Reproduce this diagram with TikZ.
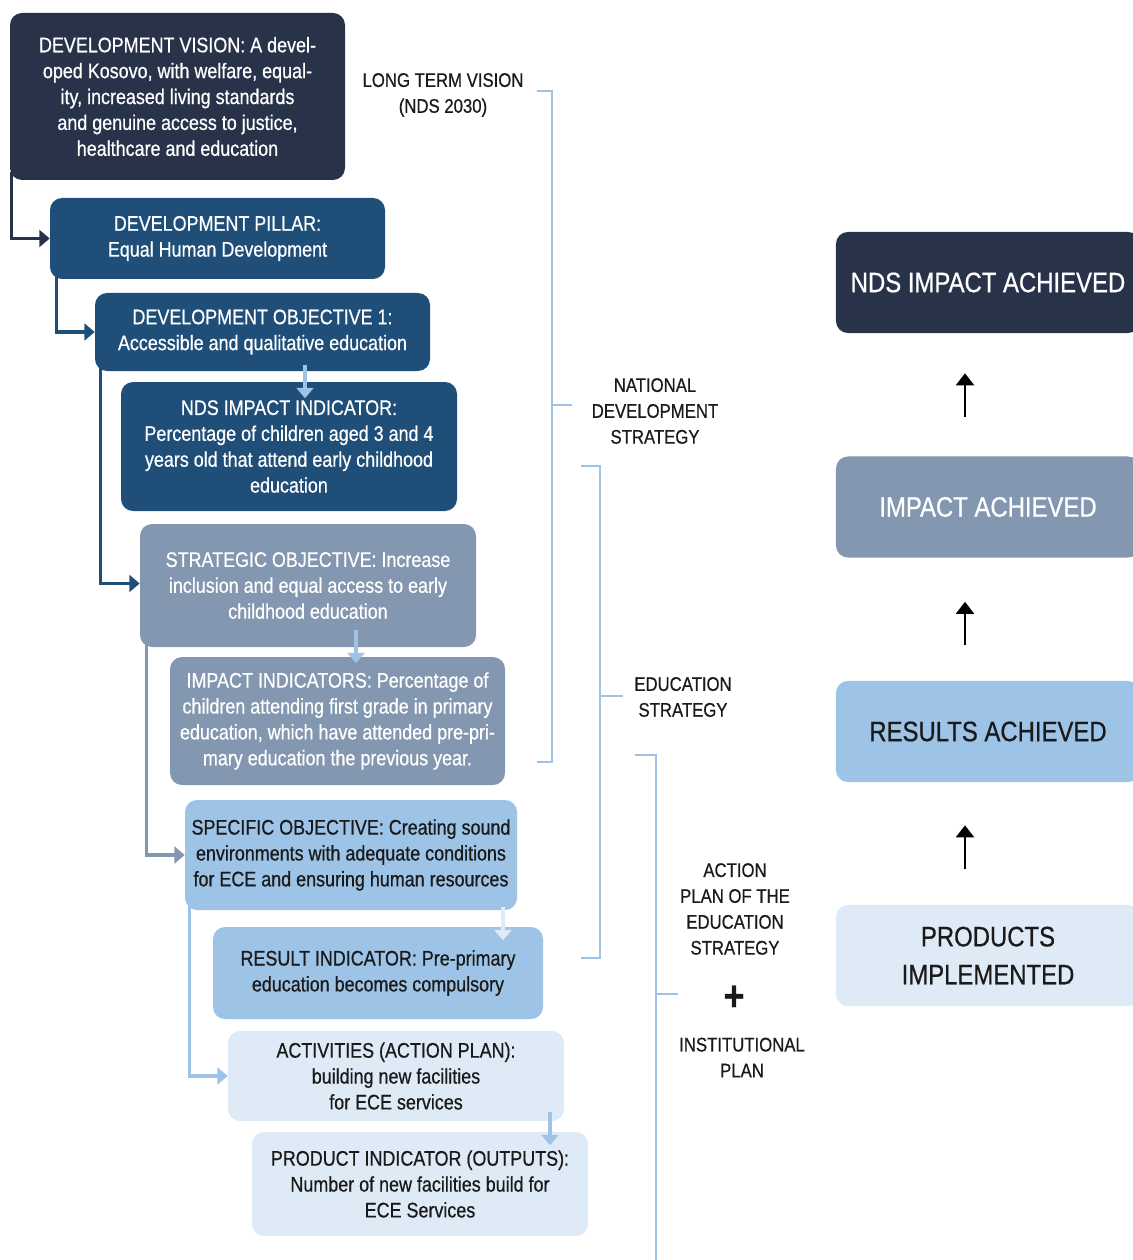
\documentclass[tikz,border=0pt]{standalone}
\usepackage{fontspec}
\setmainfont{Liberation Sans}[FakeStretch=0.85, FakeBold=0.6]
\usetikzlibrary{arrows.meta,calc}

\definecolor{navy}{HTML}{28334A}
\definecolor{darkblue}{HTML}{1F4E79}
\definecolor{greyblue}{HTML}{8497B0}
\definecolor{lightblue}{HTML}{9DC3E6}
\definecolor{paleblue}{HTML}{DEEBF7}
\definecolor{ink}{HTML}{1A1A1A}

\begin{document}
\begin{tikzpicture}[x=0.025cm, y=-0.025cm,
    box/.style={rounded corners=0.3cm, align=center, inner sep=0pt, font=\fontsize{15}{18.4}\selectfont},
    boxsize/.style 2 args={minimum width=#1*0.025cm, minimum height=#2*0.025cm},
    bigbox/.style={rounded corners=0.3cm, align=center, inner sep=0pt, minimum width=7.6cm, minimum height=2.525cm, font=\fontsize{20}{27}\selectfont},
    link/.style={line width=2.2pt, -{Triangle[width=0.42cm,length=0.26cm]}},
    bracketline/.style={lightblue, line width=2pt},
    sidetext/.style={align=center, text=ink, font=\fontsize{14}{18.4}\selectfont},
    uparrow/.style={line width=1.4pt, -{Triangle[width=0.45cm,length=0.3cm]}}]
    \useasboundingbox (0,0) rectangle (1132,1260);

    % Bal oldali dobozok
    \node[box, boxsize={335}{167}, fill=navy, text=white] (vision) at (177.5,96.5)
        {DEVELOPMENT VISION: A devel-\\oped Kosovo, with welfare, equal-\\ity, increased living standards\\and genuine access to justice,\\healthcare and education};
    \node[box, boxsize={335}{81}, fill=darkblue, text=white] (pillar) at (217.5,238.5)
        {DEVELOPMENT PILLAR:\\Equal Human Development};
    \node[box, boxsize={335}{78}, fill=darkblue, text=white] (objective) at (262.5,332)
        {DEVELOPMENT OBJECTIVE 1:\\Accessible and qualitative education};
    \node[box, boxsize={336}{129}, fill=darkblue, text=white] (ndsind) at (289,446.5)
        {NDS IMPACT INDICATOR:\\Percentage of children aged 3 and 4\\years old that attend early childhood\\education};
    \node[box, boxsize={336}{123}, fill=greyblue, text=white] (strategic) at (308,585.5)
        {STRATEGIC OBJECTIVE: Increase\\inclusion and equal access to early\\childhood education};
    \node[box, boxsize={335}{128}, fill=greyblue, text=white] (impactind) at (337.5,721)
        {IMPACT INDICATORS: Percentage of\\children attending first grade in primary\\education, which have attended pre-pri-\\mary education the previous year.};
    \node[box, boxsize={332}{110}, fill=lightblue, text=ink] (specific) at (351,855)
        {SPECIFIC OBJECTIVE: Creating sound\\environments with adequate conditions\\for ECE and ensuring human resources};
    \node[box, boxsize={330}{92}, fill=lightblue, text=ink] (resultind) at (378,973)
        {RESULT INDICATOR: Pre-primary\\education becomes compulsory};
    \node[box, boxsize={336}{90}, fill=paleblue, text=ink] (activities) at (396,1076)
        {ACTIVITIES (ACTION PLAN):\\building new facilities\\for ECE services};
    \node[box, boxsize={336}{104}, fill=paleblue, text=ink] (productind) at (420,1184)
        {PRODUCT INDICATOR (OUTPUTS):\\Number of new facilities build for\\ECE Services};

    % Lepcsos osszekotok
    \draw[link, navy] ([shift={(2,-8)}]vision.south west) |- (pillar.west);
    \draw[link, darkblue] ([shift={(7,-8)}]pillar.south west) |- (objective.west);
    \draw[link, darkblue] ([shift={(6,-8)}]objective.south west) |- ([yshift=0.05cm]strategic.west);
    \draw[link, greyblue] ([shift={(7,-8)}]strategic.south west) |- (specific.west);
    \draw[link, lightblue] ([shift={(5,-8)}]specific.south west) |- (activities.west);

    % Kis lefele nyilak
    \draw[link, lightblue] ([shift={(42.5,-6)}]objective.south) -- ++(0,33);
    \draw[link, lightblue] ([shift={(48,-17)}]strategic.south) -- ++(0,33);
    \draw[link, paleblue] ([shift={(152,-3)}]specific.south) -- ++(0,33);
    \draw[link, lightblue] ([shift={(154,-9)}]activities.south) -- ++(0,33);

    % Zarojelek es feliratok
    \draw[bracketline] (537,91) -- (552,91) -- (552,762) -- (537,762);
    \draw[bracketline] (552,405) -- (572,405);
    \draw[bracketline] (581,466) -- (600,466) -- (600,958) -- (581,958);
    \draw[bracketline] (600,696) -- (623,696);
    \draw[bracketline] (635,755) -- (656,755) -- (656,1270);
    \draw[bracketline] (656,994) -- (678,994);

    \node[sidetext] (longvision) at (443,95) {LONG TERM VISION\\(NDS 2030)};
    \node[sidetext] (ndsstrategy) at (655,411) {NATIONAL\\DEVELOPMENT\\STRATEGY};
    \node[sidetext] (edustrategy) at (683,697) {EDUCATION\\STRATEGY};
    \node[sidetext] (actionplan) at (735,909) {ACTION\\PLAN OF THE\\EDUCATION\\STRATEGY};
    \node[text=ink, font=\fontsize{30}{30}\selectfont\bfseries] (plus) at (734,998) {+};
    \node[sidetext] (instplan) at (742,1057.5) {INSTITUTIONAL\\PLAN};

    % Jobb oldali eredmeny dobozok
    \node[bigbox, fill=navy, text=white] (ndsachieved) at (988,282.5) {NDS IMPACT ACHIEVED};
    \node[bigbox, fill=greyblue, text=white] (impactachieved) at (988,507) {IMPACT ACHIEVED};
    \node[bigbox, fill=lightblue, text=ink] (resultsachieved) at (988,731.5) {RESULTS ACHIEVED};
    \node[bigbox, fill=paleblue, text=ink] (productsdone) at (988,955.5) {PRODUCTS\\IMPLEMENTED};

    \draw[uparrow] ([shift={(-23,-39)}]impactachieved.north) -- ([shift={(-23,40)}]ndsachieved.south);
    \draw[uparrow] ([shift={(-23,-36)}]resultsachieved.north) -- ([shift={(-23,44)}]impactachieved.south);
    \draw[uparrow] ([shift={(-23,-36)}]productsdone.north) -- ([shift={(-23,43)}]resultsachieved.south);
\end{tikzpicture}
\end{document}
